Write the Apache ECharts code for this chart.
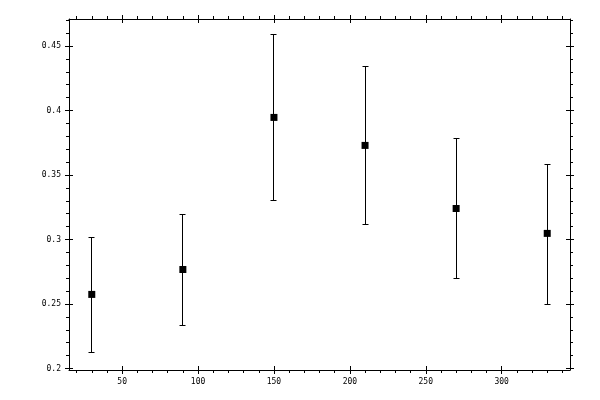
<!DOCTYPE html>
<html><head><meta charset="utf-8">
<script src="https://cdn.jsdelivr.net/npm/echarts@6/dist/echarts.min.js"></script>
<style>html,body{margin:0;padding:0;background:#fff}#c{width:600px;height:400px}</style>
</head><body><div id="c"></div>
<script>
const xValues = [30, 90, 150, 210, 270, 330];
const yValues = [0.2574, 0.2767, 0.3946, 0.3729, 0.324, 0.3047];
const yLower = [0.2124, 0.2333, 0.3302, 0.3116, 0.270, 0.2496];
const yUpper = [0.302, 0.3198, 0.4589, 0.4341, 0.379, 0.3586];
const xTickLabels = [50, 100, 150, 200, 250, 300];
const yTickLabels = [0.2, 0.25, 0.3, 0.35, 0.4, 0.45];

const X_MIN = 15, X_MAX = 345, Y_MIN = 0.1988, Y_MAX = 0.4709;
const FONT = {fontFamily: 'DejaVu Sans Mono', fontSize: 8, color: '#000'};

function xAxisDef(pos, inside, withLine, withLabels) {
  return {
    type: 'value', position: pos, min: X_MIN, max: X_MAX,
    axisLine: {show: withLine, onZero: false, lineStyle: {color: '#000', width: 1}},
    axisTick: {show: true, inside: inside, length: 4, customValues: xTickLabels, lineStyle: {color: '#000', width: 1}},
    minorTick: {show: !inside, splitNumber: 5, length: 3, lineStyle: {color: '#000', width: 1}},
    axisLabel: withLabels ? Object.assign({show: true, margin: 8, customValues: xTickLabels}, FONT) : {show: false},
    splitLine: {show: false}, minorSplitLine: {show: false}
  };
}
function yAxisDef(pos, inside, withLine, withLabels) {
  return {
    type: 'value', position: pos, min: Y_MIN, max: Y_MAX,
    axisLine: {show: withLine, onZero: false, lineStyle: {color: '#000', width: 1}},
    axisTick: {show: true, inside: inside, length: 4, customValues: yTickLabels, lineStyle: {color: '#000', width: 1}},
    minorTick: {show: !inside, splitNumber: 5, length: 3, lineStyle: {color: '#000', width: 1}},
    axisLabel: withLabels ? Object.assign({show: true, margin: 8, customValues: yTickLabels, formatter: v => String(+v.toFixed(2))}, FONT) : {show: false},
    splitLine: {show: false}, minorSplitLine: {show: false}
  };
}

const chart = echarts.init(document.getElementById('c'), null, {renderer: 'canvas'});
const errData = xValues.map((x, i) => [x, yLower[i], yUpper[i]]);
const ptData = xValues.map((x, i) => [x, yValues[i]]);

chart.setOption({
  animation: false,
  backgroundColor: '#fff',
  grid: {left: 69, right: 30, top: 19, bottom: 30, containLabel: false},
  xAxis: [
    xAxisDef('bottom', false, true, true),
    xAxisDef('bottom', true, false, false),
    xAxisDef('top', false, true, false),
    xAxisDef('top', true, false, false)
  ],
  yAxis: [
    yAxisDef('left', false, true, true),
    yAxisDef('left', true, false, false),
    yAxisDef('right', false, true, false),
    yAxisDef('right', true, false, false)
  ],
  series: [
    {
      type: 'custom', xAxisIndex: 0, yAxisIndex: 0, data: errData,
      renderItem: function (params, api) {
        const x = api.value(0);
        const lo = api.coord([x, api.value(1)]);
        const hi = api.coord([x, api.value(2)]);
        const cx = Math.floor(lo[0]) + 0.5;
        const yl = Math.round(lo[1]) + 0.5;
        const yh = Math.round(hi[1]) + 0.5;
        const st = {stroke: '#000', lineWidth: 1};
        return {type: 'group', children: [
          {type: 'line', shape: {x1: cx, y1: yl, x2: cx, y2: yh}, style: st},
          {type: 'line', shape: {x1: cx - 3, y1: yl, x2: cx + 3, y2: yl}, style: st},
          {type: 'line', shape: {x1: cx - 3, y1: yh, x2: cx + 3, y2: yh}, style: st}
        ]};
      },
      z: 2
    },
    {
      type: 'scatter', xAxisIndex: 0, yAxisIndex: 0, data: ptData,
      symbol: 'rect', symbolSize: 7,
      itemStyle: {color: '#000', opacity: 1}, z: 3
    }
  ]
});
</script></body></html>
